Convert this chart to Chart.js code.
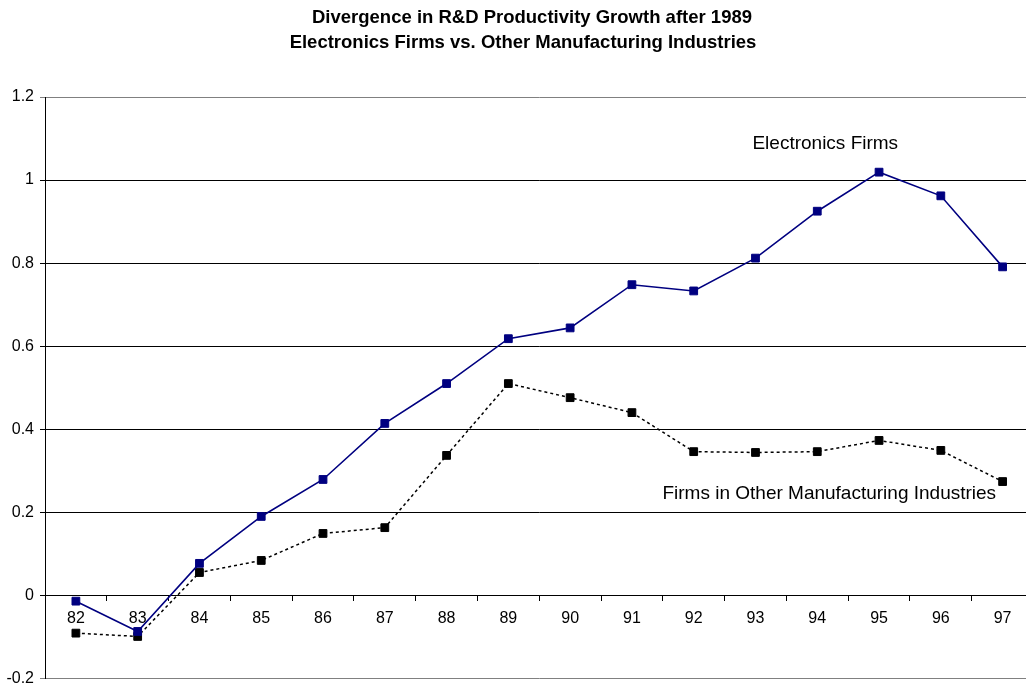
<!DOCTYPE html>
<html>
<head>
<meta charset="utf-8">
<title>Divergence in R&amp;D Productivity Growth after 1989</title>
<script src="https://cdn.jsdelivr.net/npm/chart.js@4/dist/chart.umd.min.js"></script>
<style>
    html, body { margin: 0; padding: 0; background: #ffffff; overflow: hidden; }
    #wrap { width: 1040px; height: 694px; }
</style>
</head>
<body>
<div id="wrap"><canvas id="lineChart" width="1040" height="694"></canvas></div>
<script>
// Years on the category axis (two-digit labels as in the source chart)
const years = ['82', '83', '84', '85', '86', '87', '88', '89', '90', '91', '92', '93', '94', '95', '96', '97'];

// Series values
const electronics = [-0.014, -0.087, 0.077, 0.19, 0.279, 0.414, 0.51, 0.618, 0.644, 0.748, 0.733, 0.812, 0.925, 1.019, 0.962, 0.791];
const otherManufacturing = [-0.091, -0.099, 0.055, 0.084, 0.149, 0.163, 0.337, 0.51, 0.476, 0.44, 0.346, 0.344, 0.346, 0.373, 0.349, 0.274];

// Value axis tick labels, bottom to top
const yTickLabels = ['-0.2', '0', '0.2', '0.4', '0.6', '0.8', '1', '1.2'];

const titleLines = [
    'Divergence in R&D Productivity Growth after 1989',
    'Electronics Firms vs. Other Manufacturing Industries'
];

const FONT = 'Arial, "Liberation Sans", sans-serif';

// Draws the two title lines and the in-plot series labels
const textPlugin = {
    id: 'chartText',
    afterDraw(chart) {
        const ctx = chart.ctx;
        const xs = chart.scales.x;
        const ys = chart.scales.y;
        ctx.save();
        ctx.fillStyle = '#000000';
        ctx.textAlign = 'center';
        ctx.textBaseline = 'middle';
        ctx.font = 'bold 18.5px ' + FONT;
        ctx.fillText(titleLines[0], 532, 18);
        ctx.fillText(titleLines[1], 523, 43);

        ctx.font = '19px ' + FONT;
        ctx.fillText('Electronics Firms', xs.getPixelForValue(12) + 8, ys.getPixelForValue(1.087));
        ctx.fillText('Firms in Other Manufacturing Industries', xs.getPixelForValue(12) + 12, ys.getPixelForValue(0.245));
        ctx.restore();
    }
};

const ctx = document.getElementById('lineChart');

new Chart(ctx, {
    type: 'line',
    data: {
        labels: years,
        datasets: [
            {
                label: 'Electronics Firms',
                data: electronics,
                borderColor: '#000080',
                backgroundColor: '#000080',
                borderWidth: 1.6,
                pointStyle: 'rect',
                pointRadius: 5.5,
                pointBorderWidth: 1,
                tension: 0
            },
            {
                label: 'Firms in Other Manufacturing Industries',
                data: otherManufacturing,
                borderColor: '#000000',
                backgroundColor: '#000000',
                borderWidth: 1.5,
                borderDash: [3, 3],
                pointStyle: 'rect',
                pointRadius: 5.5,
                pointBorderWidth: 1,
                tension: 0
            }
        ]
    },
    options: {
        responsive: false,
        animation: false,
        events: [],
        layout: {
            padding: { top: 97, bottom: 8, left: 0, right: 3 }
        },
        plugins: {
            legend: { display: false },
            title: { display: false },
            tooltip: { enabled: false }
        },
        scales: {
            x: {
                type: 'category',
                position: { y: 0 },
                offset: true,
                grid: {
                    offset: true,
                    drawOnChartArea: false,
                    drawTicks: true,
                    tickLength: 5,
                    color: '#000000'
                },
                border: { color: '#000000', width: 1 },
                ticks: {
                    color: '#000000',
                    padding: 9,
                    autoSkip: false,
                    maxRotation: 0,
                    font: { size: 16, family: FONT }
                }
            },
            y: {
                min: -0.2,
                max: 1.2,
                afterFit(scale) { scale.width = 45; },
                grid: {
                    color: (c) => (c.index === 0 || c.index === yTickLabels.length - 1) ? '#808080' : '#000000',
                    lineWidth: 1,
                    tickLength: 5,
                    drawTicks: true
                },
                border: { color: '#000000', width: 1 },
                ticks: {
                    stepSize: 0.2,
                    color: '#000000',
                    padding: 6,
                    font: { size: 16, family: FONT },
                    callback: (value, index) => yTickLabels[index]
                }
            }
        }
    },
    plugins: [textPlugin]
});
</script>
</body>
</html>
